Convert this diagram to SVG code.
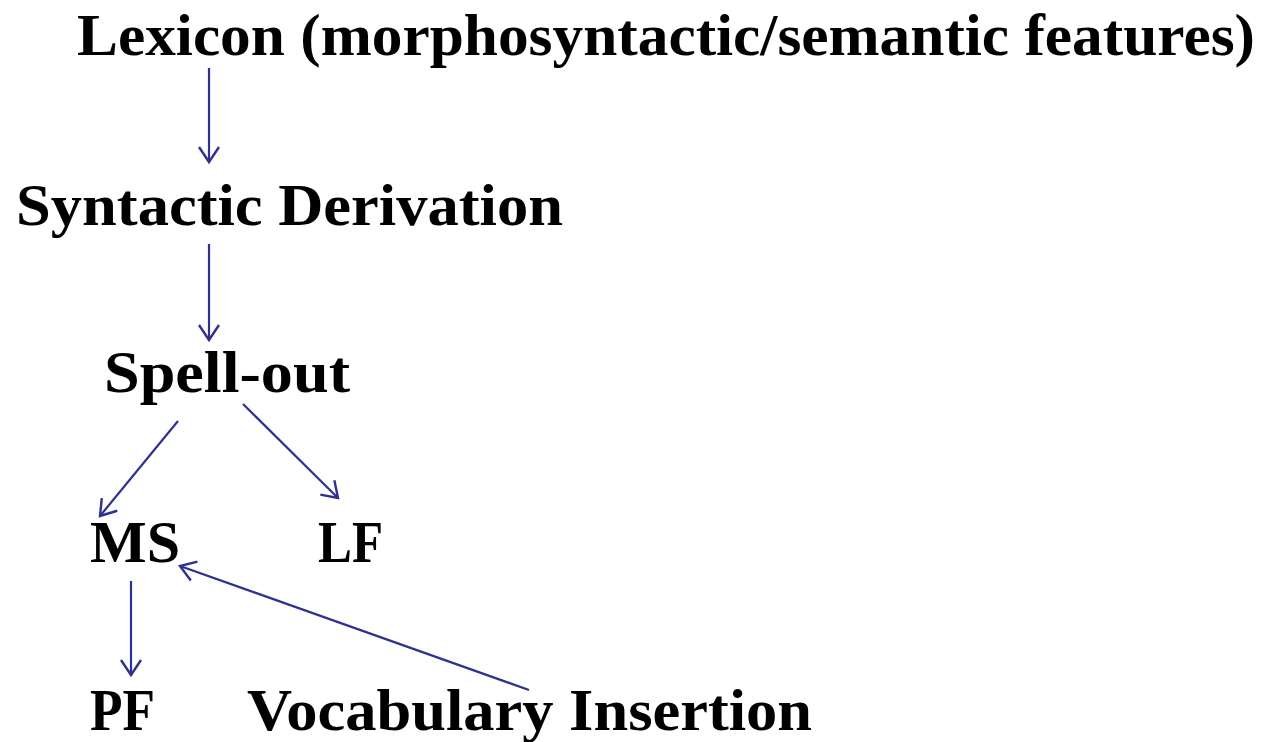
<svg xmlns="http://www.w3.org/2000/svg" width="1270" height="742" viewBox="0 0 1270 742">
<style>
text{font-family:"Liberation Serif","Times New Roman",serif;font-weight:bold;font-size:60px;fill:#000}
.c line{stroke:#2E3192;stroke-width:2.2;fill:none;marker-end:url(#ah)}
</style>
<defs>
<marker id="ah" viewBox="0 0 20 22" refX="17" refY="11" markerWidth="20" markerHeight="22" markerUnits="userSpaceOnUse" orient="auto">
<path d="M2,1 L17,11 L2,21" fill="none" stroke="#2E3192" stroke-width="2.4"/>
</marker>
</defs>
<rect width="1270" height="742" fill="#fff"/>
<g id="lexicon"><text x="77" y="55" textLength="1178" lengthAdjust="spacingAndGlyphs">Lexicon (morphosyntactic/semantic features)</text></g>
<g id="syntactic"><text x="16" y="225" textLength="547" lengthAdjust="spacingAndGlyphs">Syntactic Derivation</text></g>
<g id="spellout"><text x="104" y="392" textLength="246" lengthAdjust="spacingAndGlyphs">Spell-out</text></g>
<g id="ms"><text x="90" y="562" textLength="90" lengthAdjust="spacingAndGlyphs">MS</text></g>
<g id="lf"><text x="318" y="562" textLength="65" lengthAdjust="spacingAndGlyphs">LF</text></g>
<g id="pf"><text x="90" y="730" textLength="65" lengthAdjust="spacingAndGlyphs">PF</text></g>
<g id="vocab"><text x="247" y="730" textLength="565" lengthAdjust="spacingAndGlyphs">Vocabulary Insertion</text></g>
<g class="c" id="connectors">
<line x1="209" y1="68" x2="209" y2="162"/>
<line x1="209" y1="244" x2="209" y2="340"/>
<line x1="178" y1="421" x2="100" y2="516"/>
<line x1="243" y1="404" x2="338" y2="498"/>
<line x1="131" y1="581" x2="131" y2="675"/>
<line x1="529" y1="690" x2="180" y2="566"/>
</g>
</svg>
